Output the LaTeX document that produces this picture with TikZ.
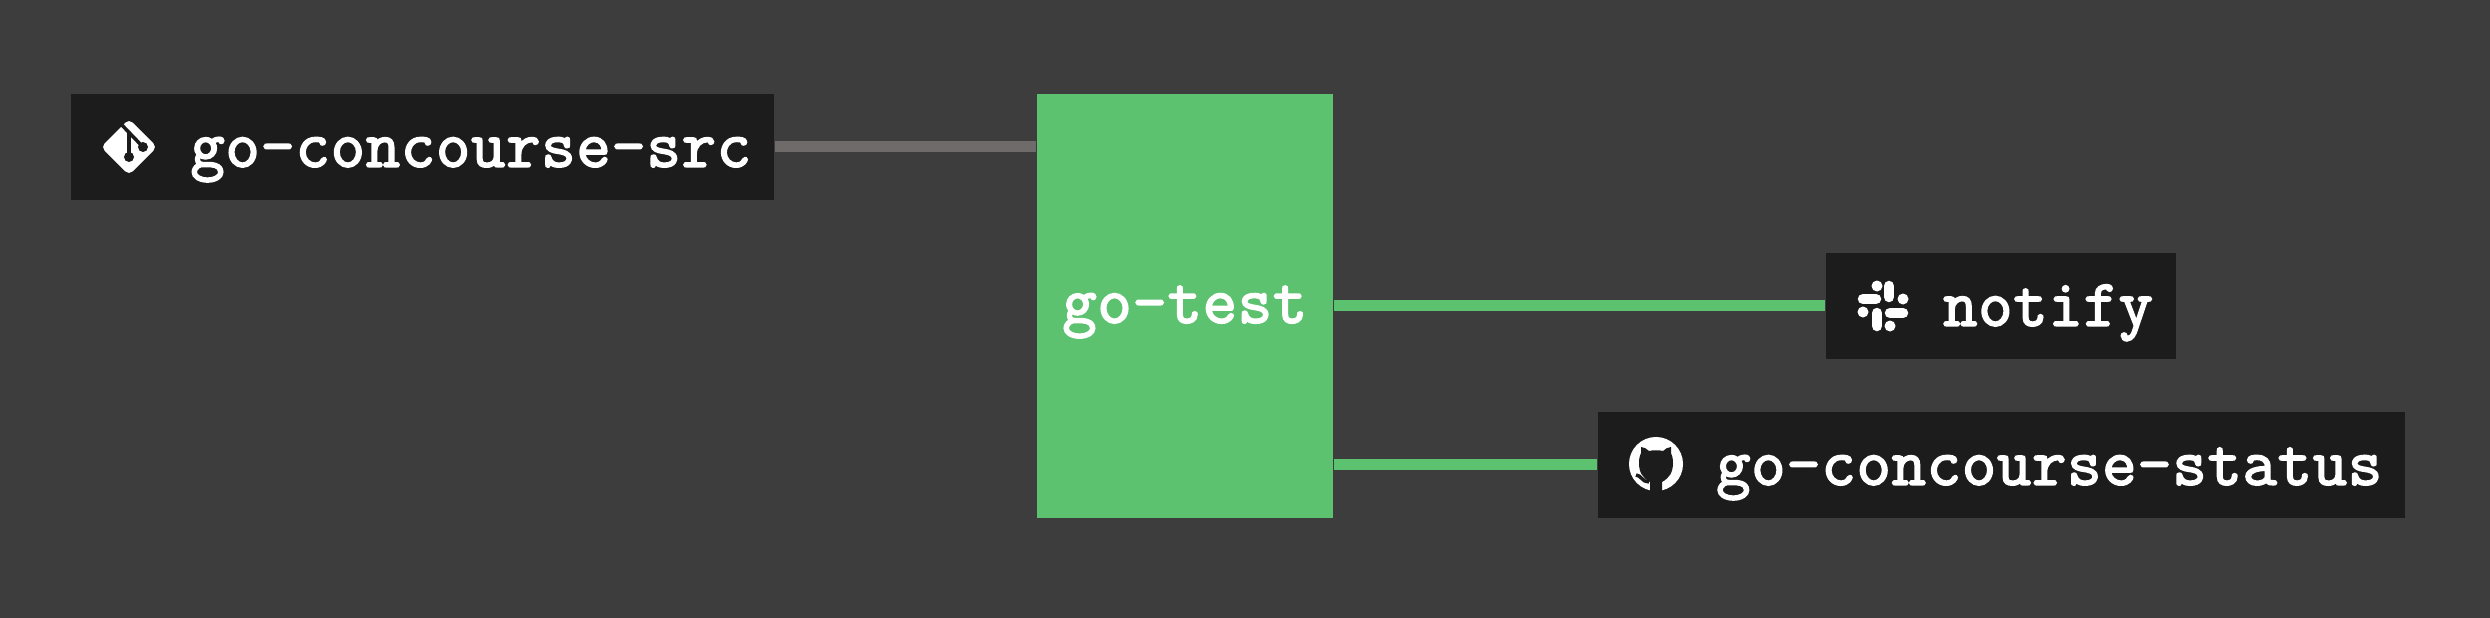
\documentclass[tikz,border=0pt]{standalone}
\usepackage{fontspec}
\setmonofont{Latin Modern Mono}[FakeBold=2.6,LetterSpace=1.3]
\usepackage{tikz}
\usetikzlibrary{positioning}
\definecolor{pagegray}{HTML}{3D3D3D}
\definecolor{boxblack}{HTML}{1C1C1C}
\definecolor{jobgreen}{HTML}{5CC26F}
\definecolor{linegray}{HTML}{706B6B}
\tikzset{%
	jobbox/.style={
		fill=boxblack,
		text=white,
		font=\fontsize{18.9pt}{22pt}\ttfamily,
		anchor=north west,
		inner xsep=.23cm,
		inner ysep=0pt,
		text height=.73cm,
		text depth=.33cm,
		align=right
	},
	testbox/.style={
		fill=jobgreen,
		text=white,
		font=\fontsize{18.9pt}{22pt}\ttfamily,
		anchor=north west,
		inner sep=0pt,
		minimum width=2.96cm,
		text height=2.29cm,
		text depth=1.95cm
	},
	linkgray/.style={
		draw=linegray,
		line width=.11cm
	},
	linkgreen/.style={
		draw=jobgreen,
		line width=.11cm
	},
}

\begin{document}
\begin{tikzpicture}[x=.01cm,y=-.01cm]
	% background
	\fill[pagegray] (0,0) rectangle (2490,618);

	% boxes
	\node[jobbox, text width=6.57cm] (src) at (70,93) {go-concourse-src};
	\node[testbox] (test) at (1036,93) {go-test};
	\node[jobbox, text width=3.04cm] (notify) at (1825,252) {notify};
	\node[jobbox, text width=7.61cm] (status) at (1597,411) {go-concourse-status};

	% connectors
	\draw[linkgray] (src.east) -- (src.east -| test.west);
	\draw[linkgreen] (notify.west) -- (notify.west -| test.east);
	\draw[linkgreen] (status.west) -- (status.west -| test.east);

	% git icon
	\begin{scope}[shift={(129,147)}]
		\fill[white, rounded corners=.05cm] (-28,0) -- (0,-28) -- (28,0) -- (0,28) -- cycle;
		\draw[boxblack, line width=.035cm] (-10,-25) -- (14,0);
		\draw[boxblack, line width=.035cm] (0,-14) -- (0,10);
		\fill[boxblack] (0,10) circle (.05cm);
		\fill[boxblack] (14,0) circle (.05cm);
	\end{scope}

	% slack icon
	\begin{scope}[shift={(1883,306)}, line width=.105cm, line cap=round, white]
		\draw (-20,-7) -- (-7,-7);
		\draw (6,-20) -- (6,-9);
		\draw (7,7) -- (20,7);
		\draw (-6,7) -- (-6,20);
		\fill (-6,-20) circle (.055cm);
		\fill (20,-7) circle (.055cm);
		\fill (7,20) circle (.055cm);
		\fill (-20,6) circle (.055cm);
	\end{scope}

	% github icon
	\begin{scope}[shift={(1656,464)}]
		\fill[white] (0,0) circle (.27cm);
		\fill[boxblack] (-6,27) -- (-6,18) .. controls (-13,14) and (-17,9) .. (-17,-1)
			.. controls (-17,-6) and (-16,-9) .. (-15,-11) -- (-15,-17)
			.. controls (-12,-17) and (-9,-15) .. (-7,-13) .. controls (-3,-14) and (3,-14) .. (7,-13)
			.. controls (9,-15) and (12,-17) .. (15,-17) -- (15,-11)
			.. controls (16,-9) and (17,-6) .. (17,-1) .. controls (17,9) and (13,14) .. (6,18) -- (6,27) -- cycle;
		\draw[boxblack, line width=.035cm] (-20,11) .. controls (-15,11) and (-14,18) .. (-7,18);
	\end{scope}
\end{tikzpicture}
\end{document}
